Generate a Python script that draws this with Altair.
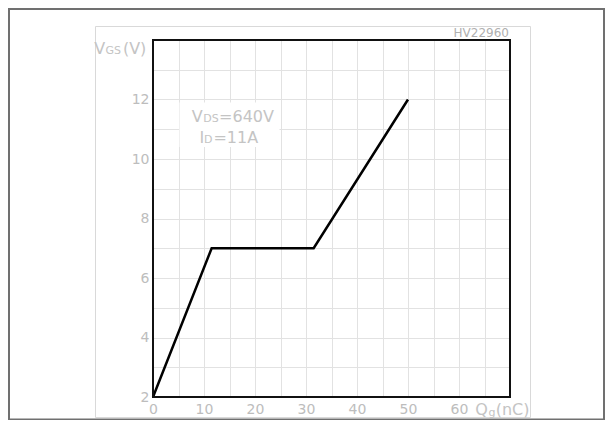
import altair as alt
import pandas as pd

# ---- data ----
q_nc = [0, 11.5, 31.5, 50]          # gate charge Qg (nC)
v_gs = [2, 7, 7, 12]                # gate-source voltage (V)

x_grid = [0, 5, 10, 15, 20, 25, 30, 35, 40, 45, 50, 55, 60, 65, 70]
x_labels = [0, 10, 20, 30, 40, 50, 60]
y_grid = [2, 3, 4, 5, 6, 7, 8, 9, 10, 11, 12, 13, 14]
y_labels = [2, 4, 6, 8, 10, 12]

FONT = "DejaVu Sans"
LBL = "#bdbdbd"
TXT = "#c4c4c4"

xs = alt.Scale(domain=[0, 70], nice=False, zero=False)
ys = alt.Scale(domain=[2, 14], nice=False, zero=False)

def lab_expr(vals):
    return "indexof([" + ",".join(str(v) for v in vals) + "], datum.value) >= 0 ? datum.label : ''"

xaxis = alt.Axis(values=x_grid, labelExpr=lab_expr(x_labels), grid=True, gridColor="#e2e2e2",
                 gridWidth=1, ticks=False, domain=False, labelColor=LBL, labelFont=FONT,
                 labelFontSize=14, labelPadding=5, labelFlush=False, labelOverlap=False, title=None)
yaxis = alt.Axis(values=y_grid, labelExpr=lab_expr(y_labels), grid=True, gridColor="#e2e2e2",
                 gridWidth=1, ticks=False, domain=False, labelColor=LBL, labelFont=FONT,
                 labelFontSize=14, labelPadding=4, labelFlush=False, labelOverlap=False, title=None)

one = pd.DataFrame({"k": [0]})

def X(v):
    return alt.XDatum(datum=v, type="quantitative", scale=xs, axis=xaxis)

def Y(v):
    return alt.YDatum(datum=v, type="quantitative", scale=ys, axis=yaxis)

curve = pd.DataFrame({"q": q_nc, "v": v_gs})

line = alt.Chart(curve).mark_line(color="black", strokeWidth=2.5).encode(
    x=alt.X("q:Q", scale=xs, axis=xaxis),
    y=alt.Y("v:Q", scale=ys, axis=yaxis),
    order="q:Q",
)

# outer frames (pixel positions relative to the plot area)
outer = alt.Chart(one).mark_rect(fill="transparent", stroke="#707070", strokeWidth=2).encode(
    x=alt.value(-144), x2=alt.value(451), y=alt.value(-31), y2=alt.value(379.5))
inner = alt.Chart(one).mark_rect(fill="transparent", stroke="#d9d9d9", strokeWidth=1).encode(
    x=alt.value(-57.5), x2=alt.value(377.5), y=alt.value(-13.5), y2=alt.value(377.5))
border = alt.Chart(one).mark_rect(fill="transparent", stroke="#111111", strokeWidth=2).encode(
    x=alt.value(0), x2=alt.value("width"), y=alt.value(0), y2=alt.value("height"))

# white box behind the annotation
box = alt.Chart(one).mark_rect(fill="white").encode(
    x=X(5.2), x2=alt.X2Datum(datum=24.8), y=Y(10.4), y2=alt.Y2Datum(datum=11.9))

def txt(s, x, y, size, align="left", color=TXT, baseline="alphabetic"):
    return alt.Chart(one).mark_text(text=s, font=FONT, fontSize=size, color=color,
                                    align=align, baseline=baseline).encode(x=X(x), y=Y(y))

texts = [
    txt("V", 7.6, 11.25, 16), txt("DS", 9.85, 11.25, 11), txt("=640V", 12.95, 11.25, 16),
    txt("I", 9.1, 10.53, 16), txt("D", 10.0, 10.53, 11), txt("=11A", 11.85, 10.53, 16),
    txt("V", -11.5, 13.52, 16), txt("GS", -9.3, 13.52, 11), txt("(V)", -5.9, 13.52, 16),
    txt("Q", 63.2, 1.395, 16), txt("g", 65.8, 1.37, 11), txt("(nC)", 67.2, 1.395, 16),
    txt("HV22960", 69.8, 14.1, 12, align="right", color="#b0b0b0"),
]

chart = alt.layer(inner, outer, box, *texts, line, border).properties(
    width=357, height=357,
    padding={"left": 145, "top": 32, "right": 95, "bottom": 23},
    autosize=alt.AutoSizeParams(type="none"),
    background="white",
).configure_view(stroke="transparent")

chart.save("out.html", embed_options={"renderer": "svg", "actions": False})
